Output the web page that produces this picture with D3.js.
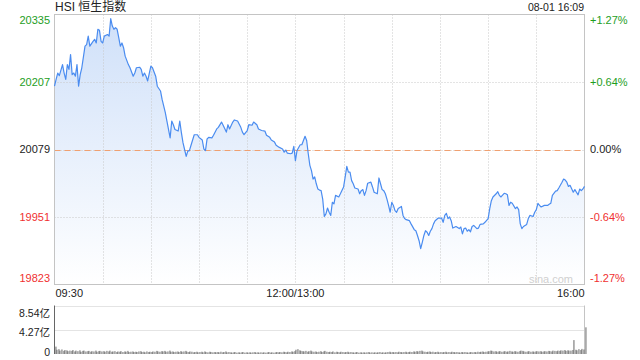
<!DOCTYPE html>
<html><head><meta charset="utf-8">
<script src="https://cdn.jsdelivr.net/npm/d3@7"></script>
<style>body{margin:0;background:#fff}svg{display:block}text{font-family:Arial,"Liberation Sans","Noto Sans CJK SC",sans-serif}</style>
</head><body><svg id="c" width="640" height="360"></svg>
<script>
const title = "HSI 恒生指数";
const stamp = "08-01 16:09";
const prevClose = 20079;
const priceTicks = [20335, 20207, 20079, 19951, 19823];
const pctTicks = ["+1.27%", "+0.64%", "0.00%", "-0.64%", "-1.27%"];
const timeTicks = [{t: 0, label: "09:30"}, {t: 150, label: "12:00/13:00"}, {t: 330, label: "16:00"}];
const volTicks = [8.54, 4.27, 0];
const volLabels = ["8.54亿", "4.27亿", "0"];

// trading minutes since 09:30 (12:00 and 13:00 share minute 150)
const minutes = [0,1,2,3,5,6,7,8,9,10,11,12,13,14,15,16,17,19,20,21,22,24,25,26,27,28,29,30,31,33,34,35,36,37,38,39,40,41,42,43,44,46,47,49,50,51,53,54,55,56,57,58,60,61,63,64,66,67,69,70,72,73,74,75,77,78,79,80,81,82,83,
84,85,87,89,90,92,93,94,95,96,98,99,101,102,104,105,107,108,109,111,112,114,116,117,118,120,121,123,124,126,127,129,131,132,134,135,137,138,140,142,143,144,145,147,148,149,150,151,153,154,155,156,157,158,159,160,161,162,163,164,
165,166,167,168,169,170,171,172,173,174,175,177,178,180,181,182,183,184,185,186,187,189,190,191,192,193,194,195,197,198,199,201,202,203,204,205,206,207,208,209,210,211,212,213,214,216,217,218,219,221,222,224,225,226,227,228,229,230,231,232,233,234,235,236,237,239,241,242,243,244,245,
246,247,248,250,252,253,254,255,256,257,258,259,260,261,263,264,265,267,268,270,271,272,273,275,276,277,278,280,281,282,283,284,285,287,288,289,290,291,292,294,295,296,298,299,300,301,302,303,305,307,308,309,310,312,313,314,316,317,318,319,320,321,323,324,325,326,327,328,329,330];
const prices = [20199,20212,20224,20219,20240,20224,20212,20240,20231,20259,20221,20224,20218,20240,20199,20221,20234,20275,20278,20294,20275,20284,20288,20281,20307,20305,20284,20281,20294,20297,20294,20327,20313,20307,20310,20307,20291,20275,20281,20272,20256,20240,20234,20218,20224,20234,20235,20231,20218,20224,20218,20209,20237,20234,20218,20199,20190,20174,20149,20133,20101,20133,20126,20117,20114,20133,20111,20092,20079,20066,20076,
20077,20087,20107,20107,20102,20097,20080,20077,20099,20102,20101,20106,20118,20121,20131,20125,20112,20126,20118,20131,20135,20133,20121,20112,20107,20115,20126,20125,20131,20126,20118,20115,20114,20106,20102,20097,20093,20087,20083,20080,20074,20078,20072,20071,20072,20085,20058,20077,20088,20088,20096,20104,20096,20071,20049,20039,20023,20027,20014,20004,
20002,20001,19985,19952,19957,19968,19960,19954,19979,19976,19992,19989,19995,20008,20027,20047,20036,20036,20020,20014,20006,20004,19995,20001,20003,19992,20001,20015,20017,20008,19998,19995,20025,20014,20003,20001,19995,19985,19973,19960,19979,19973,19963,19960,19967,19971,19954,19948,19946,19944,19938,19927,19925,19916,19906,19891,19903,19916,19925,19922,19916,19924,19929,19938,19944,19949,19949,19941,19954,19958,19948,
19951,19944,19930,19933,19929,19932,19919,19929,19930,19924,19927,19923,19933,19935,19929,19930,19937,19938,19941,19948,19967,19982,19989,19995,19999,19992,19989,19996,19995,19993,19973,19979,19977,19967,19970,19965,19938,19929,19933,19937,19948,19954,19952,19960,19965,19977,19973,19970,19973,19973,19975,19977,19992,20000,20001,20006,20017,20023,20021,20017,20009,20011,19998,20003,19998,19993,20004,20001,20004,20009];

// per-minute turnover (亿), minute 0..330
const volumes = [
1.30,0.75,0.85,0.60,0.80,0.55,0.70,0.65,0.50,0.60,
0.55,0.70,0.45,0.60,0.50,0.65,0.40,0.55,0.60,0.45,
0.50,0.55,0.40,0.50,0.45,0.60,0.40,0.50,0.55,0.45,
0.50,0.40,0.55,0.45,0.60,0.40,0.45,0.50,0.35,0.45,
0.40,0.50,0.35,0.45,0.40,0.55,0.35,0.40,0.45,0.35,
0.40,0.35,0.45,0.50,0.35,0.40,0.30,0.45,0.35,0.40,
0.35,0.45,0.40,0.55,0.45,0.40,0.50,0.45,0.55,0.40,
0.45,0.60,0.40,0.45,0.35,0.40,0.45,0.35,0.50,0.40,
0.45,0.55,0.40,0.35,0.45,0.40,0.30,0.35,0.40,0.30,
0.35,0.40,0.30,0.45,0.35,0.30,0.40,0.35,0.30,0.35,
0.30,0.35,0.30,0.40,0.30,0.35,0.45,0.30,0.35,0.30,
0.25,0.30,0.35,0.25,0.30,0.25,0.30,0.35,0.25,0.30,
0.25,0.30,0.25,0.30,0.35,0.25,0.30,0.25,0.30,0.25,
0.30,0.25,0.30,0.35,0.25,0.30,0.25,0.30,0.35,0.30,
0.35,0.30,0.40,0.35,0.30,0.40,0.35,0.45,0.40,0.50,
0.75,
0.85,0.65,0.55,0.50,0.45,0.55,0.40,0.50,0.60,0.45,
0.40,0.45,0.35,0.40,0.50,0.35,0.45,0.55,0.40,0.35,
0.40,0.35,0.45,0.30,0.40,0.35,0.30,0.40,0.35,0.30,
0.35,0.40,0.30,0.35,0.30,0.25,0.30,0.35,0.25,0.30,
0.25,0.30,0.25,0.30,0.35,0.25,0.30,0.25,0.30,0.25,
0.30,0.35,0.25,0.30,0.25,0.30,0.35,0.40,0.30,0.35,
0.30,0.35,0.30,0.40,0.35,0.30,0.35,0.40,0.30,0.35,
0.40,0.35,0.45,0.40,0.50,0.45,0.55,0.60,0.45,0.40,
0.35,0.40,0.45,0.35,0.40,0.30,0.35,0.40,0.30,0.35,
0.30,0.35,0.40,0.30,0.35,0.30,0.40,0.35,0.30,0.35,
0.30,0.25,0.35,0.30,0.35,0.30,0.25,0.30,0.35,0.30,
0.35,0.30,0.40,0.35,0.40,0.45,0.35,0.40,0.45,0.50,
0.60,0.55,0.45,0.50,0.40,0.45,0.50,0.40,0.45,0.50,
0.40,0.45,0.55,0.45,0.40,0.50,0.45,0.40,0.50,0.60,
0.55,0.45,0.40,0.45,0.50,0.40,0.45,0.40,0.45,0.50,
0.45,0.50,0.40,0.45,0.50,0.45,0.55,0.50,0.45,0.60,
0.55,0.50,0.60,0.55,0.65,0.60,0.70,0.55,0.65,0.60,
0.60,0.70,2.45,0.75,0.65,0.85,0.70,0.90,0.80,4.70];

const svg = d3.select("#c");
const L = 54.5, R = 584.5, T = 14.5, B = 284.5;
const x = d3.scaleLinear().domain([0, 330]).range([L, R]);
const y = d3.scaleLinear().domain([19823, 20335]).range([B, T]);
const yv = d3.scaleLinear().domain([0, 8.54]).range([354, 305.5]);
const green = "#1e9e1e", red = "#f03030", grid = "#c8c8c8";

const defs = svg.append("defs");
const g = defs.append("linearGradient").attr("id", "fillG").attr("gradientUnits", "userSpaceOnUse")
  .attr("x1", 0).attr("y1", T).attr("x2", 0).attr("y2", B);
g.append("stop").attr("offset", "0%").attr("stop-color", "#cfe0f9");
g.append("stop").attr("offset", "100%").attr("stop-color", "#ffffff");

const data = minutes.map((t, i) => ({t, v: prices[i]}));

// area
svg.append("path").datum(data)
  .attr("d", d3.area().x(d => x(d.t)).y0(B).y1(d => y(d.v)))
  .attr("fill", "url(#fillG)");

// vertical grid
svg.append("g").selectAll("line").data(d3.range(30, 330, 30)).join("line")
  .attr("x1", d => Math.round(x(d)) + 0.5).attr("x2", d => Math.round(x(d)) + 0.5)
  .attr("y1", T).attr("y2", B)
  .attr("stroke", grid).attr("stroke-dasharray", "1,2");

// horizontal grid
svg.append("g").selectAll("line").data(priceTicks.slice(1, 4)).join("line")
  .attr("x1", L).attr("x2", R)
  .attr("y1", d => Math.round(y(d)) + 0.5).attr("y2", d => Math.round(y(d)) + 0.5)
  .attr("stroke", grid).attr("stroke-dasharray", "1,2");
svg.append("line").attr("x1", L).attr("x2", R)
  .attr("y1", Math.round(y(prevClose)) + 0.5).attr("y2", Math.round(y(prevClose)) + 0.5)
  .attr("stroke", "#f0a070").attr("stroke-dasharray", "6,4");

// border
svg.append("rect").attr("x", L).attr("y", T).attr("width", R - L).attr("height", B - T)
  .attr("fill", "none").attr("stroke", "#c4c4c4");

// line
svg.append("path").datum(data)
  .attr("d", d3.line().x(d => x(d.t)).y(d => y(d.v)))
  .attr("fill", "none").attr("stroke", "#4a8cf0").attr("stroke-width", 1.2).attr("stroke-linejoin", "round");

// watermark
svg.append("text").attr("x", 573).attr("y", 279).attr("dy", "0.35em").attr("text-anchor", "end")
  .attr("font-size", 11).attr("fill", "#d0d0d0").text("sina.com");

// left labels
const yLab = (d, i) => y(d) + (i === 0 ? 6 : i === priceTicks.length - 1 ? -6 : 0);
svg.append("g").selectAll("text").data(priceTicks).join("text")
  .attr("x", 50).attr("y", yLab).attr("dy", "0.35em").attr("text-anchor", "end")
  .attr("font-size", 11)
  .attr("fill", d => d > prevClose ? green : d < prevClose ? red : "#222")
  .text(d => d);
// right labels
svg.append("g").selectAll("text").data(priceTicks).join("text")
  .attr("x", 590).attr("y", yLab).attr("dy", "0.35em").attr("text-anchor", "start")
  .attr("font-size", 11)
  .attr("fill", d => d > prevClose ? green : d < prevClose ? red : "#222")
  .text((d, i) => pctTicks[i]);

// time labels
svg.append("g").selectAll("text").data(timeTicks).join("text")
  .attr("x", (d, i) => x(d.t) + (i === 0 ? 1 : 0)).attr("y", 293).attr("dy", "0.35em")
  .attr("text-anchor", (d, i) => i === 0 ? "start" : i === timeTicks.length - 1 ? "end" : "middle")
  .attr("font-size", 11).attr("fill", "#222").text(d => d.label);

// header
svg.append("text").attr("x", 55).attr("y", 11).attr("font-size", 12).attr("fill", "#222").text(title);
svg.append("text").attr("x", 584).attr("y", 10.5).attr("text-anchor", "end").attr("font-size", 10.5).attr("fill", "#222").text(stamp);

// volume panel
svg.append("g").selectAll("line").data(volTicks.slice(0, 2)).join("line")
  .attr("x1", L).attr("x2", R)
  .attr("y1", d => Math.round(yv(d)) + 0.5).attr("y2", d => Math.round(yv(d)) + 0.5)
  .attr("stroke", grid).attr("stroke-dasharray", "1,1");
svg.append("line").attr("x1", R).attr("x2", R).attr("y1", yv(8.54)).attr("y2", yv(0)).attr("stroke", "#c4c4c4");
svg.append("g").selectAll("rect").data(volumes).join("rect")
  .attr("x", (d, i) => Math.round(x(i)) + 0.5).attr("width", 0.9)
  .attr("y", d => yv(d)).attr("height", d => yv(0) - yv(d))
  .attr("fill", "#555");
svg.append("line").attr("x1", L).attr("x2", L).attr("y1", yv(8.54)).attr("y2", yv(0)).attr("stroke", "#666");
const vOff = [8, 3, -2];
svg.append("g").selectAll("text").data(volTicks).join("text")
  .attr("x", 50).attr("y", (d, i) => yv(d) + vOff[i]).attr("dy", "0.35em").attr("text-anchor", "end")
  .attr("font-size", 10.5).attr("fill", "#222").text((d, i) => volLabels[i]);
</script></body></html>
